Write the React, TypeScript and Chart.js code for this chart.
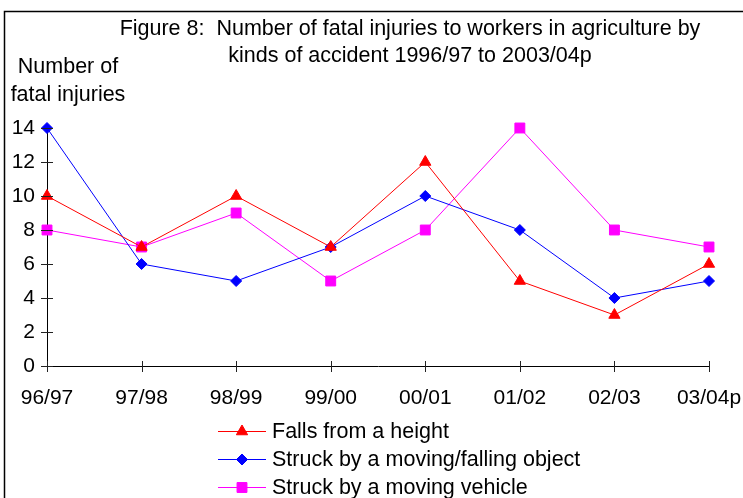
import React, { useEffect, useRef } from "react";
import { Chart, registerables } from "chart.js";

Chart.register(...registerables);

const categories = ["96/97", "97/98", "98/99", "99/00", "00/01", "01/02", "02/03", "03/04p"];
const fallsFromHeight = [10, 7, 10, 7, 12, 5, 3, 6];
const struckByObject = [14, 6, 5, 7, 10, 8, 4, 5];
const struckByVehicle = [8, 7, 9, 5, 8, 14, 8, 7];
const seriesNames = [
  "Falls from a height",
  "Struck by a moving/falling object",
  "Struck by a moving vehicle",
];
const titleLines = [
  "Figure 8:  Number of fatal injuries to workers in agriculture by",
  "kinds of accident 1996/97 to 2003/04p",
];
const yLabelLines = ["Number of", "fatal injuries"];

const FONT = "Liberation Sans, Arial, sans-serif";

function drawMarker(ctx: CanvasRenderingContext2D, style: string, r: number, x: number, y: number) {
  ctx.beginPath();
  if (style === "triangle") {
    const s = (3 * r) / Math.sqrt(3);
    const h = (s * Math.sqrt(3)) / 2;
    ctx.moveTo(x, y - (2 * h) / 3);
    ctx.lineTo(x + s / 2, y + h / 3);
    ctx.lineTo(x - s / 2, y + h / 3);
  } else if (style === "rectRot") {
    ctx.moveTo(x, y - r);
    ctx.lineTo(x + r, y);
    ctx.lineTo(x, y + r);
    ctx.lineTo(x - r, y);
  } else {
    const s = Math.SQRT1_2 * r;
    ctx.rect(x - s, y - s, 2 * s, 2 * s);
  }
  ctx.closePath();
  ctx.fill();
  ctx.stroke();
}

const decorPlugin = {
  id: "decor",
  afterDraw(chart: any) {
    const ctx = chart.ctx;
    ctx.save();
    // border
    ctx.strokeStyle = "#000";
    ctx.lineWidth = 1.5;
    ctx.beginPath();
    ctx.moveTo(4.5, 498);
    ctx.lineTo(4.5, 11.5);
    ctx.lineTo(743, 11.5);
    ctx.stroke();

    // title
    ctx.fillStyle = "#000";
    ctx.font = `21.5px ${FONT}`;
    ctx.textAlign = "center";
    ctx.textBaseline = "middle";
    ctx.fillText(titleLines[0], 410, 29);
    ctx.fillText(titleLines[1], 410, 56);
    // y label
    ctx.fillText(yLabelLines[0], 68, 67);
    ctx.fillText(yLabelLines[1], 68, 95);

    // tick marks crossing axes
    const xs = chart.scales.x;
    const ys = chart.scales.y;
    ctx.strokeStyle = "#222";
    ctx.lineWidth = 1;
    ctx.beginPath();
    for (let i = 0; i < xs.ticks.length; i++) {
      const px = Math.round(xs.getPixelForTick(i)) + 0.5;
      ctx.moveTo(px, xs.top - 5);
      ctx.lineTo(px, xs.top + 6);
    }
    for (let i = 0; i < ys.ticks.length; i++) {
      const py = Math.round(ys.getPixelForTick(i)) + 0.5;
      ctx.moveTo(ys.right - 6, py);
      ctx.lineTo(ys.right + 6, py);
    }
    ctx.stroke();

    // legend
    const datasets = chart.data.datasets;
    ctx.textAlign = "left";
    for (let i = 0; i < datasets.length; i++) {
      const ds = datasets[i];
      const y = 431 + i * 28;
      ctx.strokeStyle = ds.borderColor;
      ctx.lineWidth = 1;
      ctx.beginPath();
      ctx.moveTo(218, y + 0.5);
      ctx.lineTo(266, y + 0.5);
      ctx.stroke();
      ctx.fillStyle = ds.backgroundColor;
      drawMarker(ctx, ds.pointStyle, ds.pointRadius, 242, y + 0.5);
      ctx.fillStyle = "#000";
      ctx.fillText(ds.label, 272, y + 1);
    }
    ctx.restore();
  },
};

export default function App() {
  const ref = useRef<HTMLCanvasElement>(null);
  useEffect(() => {
    document.body.style.margin = "0";
    const mk = (label: string, data: number[], color: string, style: string, r: number) => ({
      label,
      data,
      borderColor: color,
      backgroundColor: color,
      borderWidth: 1,
      pointStyle: style,
      pointRadius: r,
      pointHoverRadius: r,
      pointBorderWidth: 1,
      tension: 0,
      clip: false as any,
    });
    const chart = new Chart(ref.current!, {
      type: "line",
      data: {
        labels: categories,
        datasets: [
          mk(seriesNames[0], fallsFromHeight, "#FF0000", "triangle", 6.5),
          mk(seriesNames[1], struckByObject, "#0000FF", "rectRot", 5.5),
          mk(seriesNames[2], struckByVehicle, "#FF00FF", "rect", 7),
        ],
      },
      options: {
        animation: false,
        responsive: false,
        devicePixelRatio: 1,
        layout: { padding: { left: 0, right: 34, top: 128, bottom: 0 } },
        plugins: { legend: { display: false }, title: { display: false }, tooltip: { enabled: false } },
        scales: {
          x: {
            type: "category",
            offset: false,
            grid: { display: false },
            border: { display: true, color: "#000", width: 1 },
            ticks: { color: "#000", font: { family: FONT, size: 21 }, padding: 12, maxRotation: 0, autoSkip: false },
            afterFit: (s: any) => {
              s.height = 132;
              s.paddingLeft = 0;
              s.paddingRight = 0;
            },
          },
          y: {
            min: 0,
            max: 14,
            grid: { display: false },
            border: { display: true, color: "#000", width: 1 },
            ticks: { stepSize: 2, color: "#000", font: { family: FONT, size: 21 }, padding: 4 },
            afterFit: (s: any) => {
              s.width = 47;
              s.paddingTop = 0;
              s.paddingBottom = 0;
            },
          },
        },
      },
      plugins: [decorPlugin],
    });
    return () => chart.destroy();
  }, []);
  return (
    <div style={{ position: "absolute", left: 0, top: 0, width: 743, height: 498 }}>
      <canvas ref={ref} width={743} height={498} />
    </div>
  );
}
